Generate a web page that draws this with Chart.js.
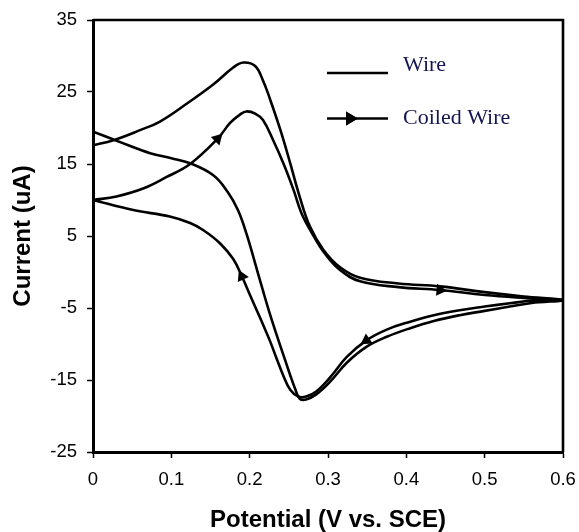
<!DOCTYPE html>
<html><head><meta charset="utf-8">
<script src="https://cdn.jsdelivr.net/npm/chart.js@4/dist/chart.umd.min.js"></script>
<style>html,body{margin:0;padding:0;background:#fff}#wrap{width:579px;height:532px;position:relative}canvas{display:block}</style>
</head><body><div id="wrap"><canvas id="c" width="579" height="532" style="width:579px;height:532px"></canvas></div>
<script>
// ---- data ----
const xTickValues = [0, 0.1, 0.2, 0.3, 0.4, 0.5, 0.6];
const xTickLabels = ['0', '0.1', '0.2', '0.3', '0.4', '0.5', '0.6'];
const yTickValues = [-25, -15, -5, 5, 15, 25, 35];
const yTickLabels = ['-25', '-15', '-5', '5', '15', '25', '35'];
const seriesNames = ['Wire', 'Coiled Wire'];
const xTitle = 'Potential (V vs. SCE)';
const yTitle = 'Current (uA)';

// Wire: forward scan 0 -> 0.6 V, then reverse scan 0.6 -> 0 V
const wireV = [0, 0.026, 0.06, 0.0855, 0.12, 0.153, 0.179, 0.192, 0.207, 0.217, 0.226, 0.239, 0.251, 0.264, 0.277, 0.294, 0.315, 0.341, 0.39, 0.443, 0.5, 0.55, 0.6,
  0.56, 0.532, 0.5, 0.468, 0.435, 0.405, 0.375, 0.349, 0.324, 0.303, 0.285, 0.272, 0.264, 0.258, 0.251, 0.243, 0.234, 0.226, 0.217, 0.207, 0.196, 0.185, 0.172, 0.154, 0.124, 0.1, 0.073, 0.031, 0];
const wireI = [17.6, 18.3, 19.7, 20.9, 23.4, 26.0, 28.4, 29.1, 28.6, 26.6, 24.0, 19.8, 15.4, 10.4, 6.3, 3.1, 0.7, -0.8, -1.6, -2.0, -2.8, -3.4, -3.9,
  -4.3, -4.8, -5.4, -6.0, -6.8, -7.8, -9.0, -10.4, -12.6, -15.2, -17.0, -17.7, -17.6, -16.2, -14.1, -11.5, -8.6, -5.9, -2.6, 1.2, 5.3, 8.6, 11.1, 13.4, 15.1, 15.8, 16.5, 18.2, 19.5];

// Coiled Wire: forward scan then reverse scan
const coiledV = [0, 0.03, 0.064, 0.094, 0.124, 0.159, 0.175, 0.188, 0.196, 0.207, 0.217, 0.23, 0.243, 0.256, 0.266, 0.28, 0.295, 0.315, 0.341, 0.39, 0.443, 0.5, 0.55, 0.6,
  0.56, 0.532, 0.5, 0.468, 0.435, 0.405, 0.375, 0.349, 0.324, 0.303, 0.285, 0.272, 0.262, 0.252, 0.243, 0.234, 0.226, 0.217, 0.209, 0.2, 0.19, 0.179, 0.162, 0.141, 0.124, 0.098, 0.0515, 0];
const coiledI = [10.0, 10.5, 11.6, 13.2, 15.0, 18.5, 20.7, 21.9, 22.3, 22.0, 21.1, 18.3, 15.1, 11.4, 8.2, 5.3, 2.7, 0.3, -1.3, -2.1, -2.5, -3.2, -3.6, -3.9,
  -4.0, -4.35, -4.8, -5.3, -6.0, -6.9, -8.0, -9.5, -11.8, -14.6, -16.6, -17.3, -17.3, -16.4, -14.4, -11.9, -9.6, -7.3, -5.3, -3.1, -0.6, 1.8, 4.0, 5.8, 6.8, 7.7, 8.6, 10.0];
// indices of coiled-wire points that carry a direction arrow
const coiledArrowIdx = [5, 20, 31, 44];

// ---- helpers ----
const toPts = (xs, ys) => xs.map((x, i) => ({x: x, y: ys[i]}));

function arrowRotation(ctx) {
  const chart = ctx.chart, i = ctx.dataIndex, d = ctx.dataset.data;
  const sx = chart.scales.x, sy = chart.scales.y;
  if (!sx || !sy) return 0;
  const a = d[Math.max(0, i - 1)], b = d[Math.min(d.length - 1, i + 1)];
  const dx = sx.getPixelForValue(b.x) - sx.getPixelForValue(a.x);
  const dy = sy.getPixelForValue(b.y) - sy.getPixelForValue(a.y);
  return Math.atan2(dx, -dy) * 180 / Math.PI;
}

const framePlugin = {
  id: 'frame',
  afterDraw(chart, args, opts) {
    const {ctx, chartArea: a} = chart;
    ctx.save();
    ctx.strokeStyle = opts.color;
    ctx.lineWidth = opts.width;
    ctx.beginPath();
    ctx.moveTo(a.left, a.top);
    ctx.lineTo(a.right, a.top);
    ctx.lineTo(a.right, a.bottom);
    ctx.stroke();
    ctx.restore();
  }
};

const legendPlugin = {
  id: 'inlineLegend',
  afterDraw(chart, args, opts) {
    const ctx = chart.ctx;
    chart.data.datasets.forEach((ds, i) => {
      const it = opts.items[i];
      ctx.save();
      ctx.strokeStyle = ds.borderColor;
      ctx.lineWidth = ds.borderWidth;
      ctx.beginPath();
      ctx.moveTo(opts.lineX0, it.lineY);
      ctx.lineTo(opts.lineX1, it.lineY);
      ctx.stroke();
      if (it.arrow) {
        ctx.fillStyle = ds.borderColor;
        Chart.helpers.drawPoint(ctx, {pointStyle: 'triangle', rotation: 90, radius: it.arrowR, borderWidth: 0}, it.arrowX, it.lineY);
        ctx.fill();
      }
      ctx.fillStyle = opts.color;
      ctx.font = opts.font;
      ctx.textBaseline = 'alphabetic';
      ctx.textAlign = 'left';
      ctx.fillText(ds.label, opts.textX, it.textY);
      ctx.restore();
    });
  }
};

const tickFont = {family: 'Arial, "Liberation Sans", sans-serif', size: 18.5};
const titleFont = {family: 'Arial, "Liberation Sans", sans-serif', size: 24, weight: 'bold', lineHeight: 1};

new Chart(document.getElementById('c'), {
  type: 'line',
  data: {
    datasets: [
      {
        label: seriesNames[0],
        data: toPts(wireV, wireI),
        borderColor: '#000',
        borderWidth: 2.6,
        pointRadius: 0,
        tension: 0.4,
        fill: false
      },
      {
        label: seriesNames[1],
        data: toPts(coiledV, coiledI),
        borderColor: '#000',
        borderWidth: 2.6,
        tension: 0.4,
        fill: false,
        pointStyle: 'triangle',
        pointRadius: (c) => coiledArrowIdx.includes(c.dataIndex) ? 7 : 0,
        pointRotation: arrowRotation,
        pointBackgroundColor: '#000',
        pointBorderColor: '#000',
        pointBorderWidth: 0
      }
    ]
  },
  options: {
    responsive: false,
    animation: false,
    events: [],
    layout: {padding: {top: 20, right: 16, left: 0, bottom: 0}},
    plugins: {
      legend: {display: false},
      tooltip: {enabled: false},
      frame: {color: '#000', width: 2.6},
      inlineLegend: {
        lineX0: 327, lineX1: 388, textX: 403,
        color: '#151550',
        font: '22px "Liberation Serif", "Times New Roman", serif',
        items: [
          {lineY: 73, textY: 71, arrow: false},
          {lineY: 118.5, textY: 123.5, arrow: true, arrowX: 350, arrowR: 8}
        ]
      }
    },
    scales: {
      x: {
        type: 'linear',
        min: 0, max: 0.6,
        afterFit: (s) => { s.height = 80; s.paddingLeft = 0; s.paddingRight = 0; },
        afterBuildTicks: (s) => { s.ticks = xTickValues.map(v => ({value: v})); },
        ticks: {
          font: tickFont, color: '#000', padding: 11, maxRotation: 0, autoSkip: false,
          callback: (v, i) => xTickLabels[i]
        },
        grid: {display: true, drawOnChartArea: false, drawTicks: true, tickLength: 6, tickWidth: 1.5, tickColor: '#000'},
        border: {display: true, color: '#000', width: 3},
        title: {display: true, text: xTitle, color: '#000', font: titleFont, padding: {top: 0, bottom: 0}}
      },
      y: {
        type: 'linear',
        min: -25, max: 35,
        afterFit: (s) => { s.width = 93; s.paddingTop = 0; s.paddingBottom = 0; },
        afterBuildTicks: (s) => { s.ticks = yTickValues.map(v => ({value: v})); },
        ticks: {
          font: tickFont, color: '#000', padding: 10, autoSkip: false,
          callback: (v, i) => yTickLabels[i]
        },
        grid: {display: true, drawOnChartArea: false, drawTicks: true, tickLength: 6, tickWidth: 1.5, tickColor: '#000'},
        border: {display: true, color: '#000', width: 3},
        title: {display: true, text: yTitle, color: '#000', font: titleFont, padding: {top: 11.5, bottom: 0}}
      }
    }
  },
  plugins: [framePlugin, legendPlugin]
});
</script>
</body></html>
